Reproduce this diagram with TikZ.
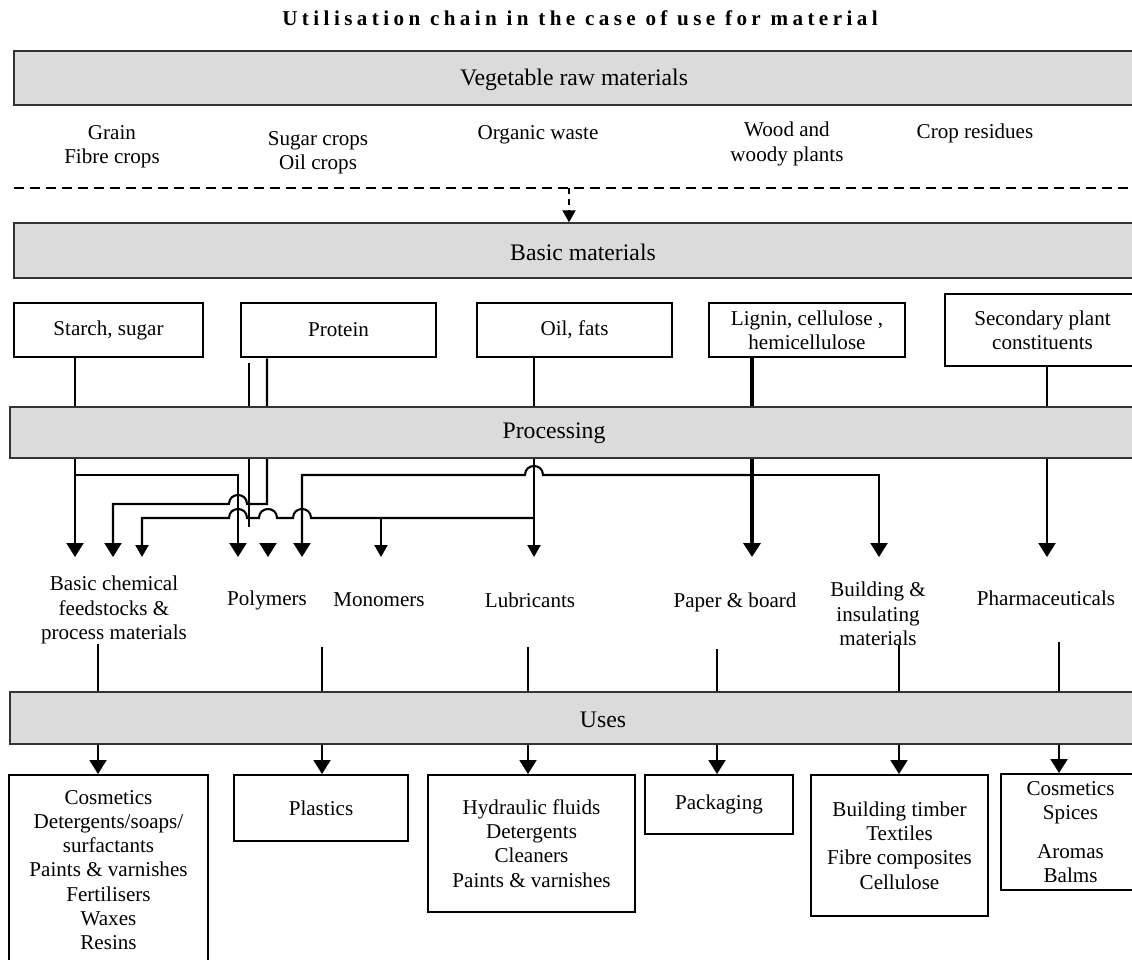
\documentclass[tikz,border=0pt]{standalone}
\usepackage{fontspec}
\setmainfont{Liberation Serif}
\usetikzlibrary{arrows.meta,positioning,backgrounds}

\begin{document}
\begin{tikzpicture}[
    x=.2mm, y=-.2mm,
    font=\fontsize{12}{13.8}\selectfont,
    band/.style={draw=black!80, line width=.8pt, fill=black!14,
      minimum width=226mm},
    bandtext/.style={font=\fontsize{13.5}{16}\selectfont},
    srcbox/.style={draw, line width=1.5pt, fill=white, align=center,
      minimum height=10.8mm},
    usebox/.style={draw, line width=1.1pt, fill=white, align=center},
    lbl/.style={align=center},
    conn/.style={line width=1.2pt},
    bigtip/.tip={Triangle[length=2.8mm,width=3.4mm]},
    smalltip/.tip={Triangle[length=2.4mm,width=2.6mm]},
    hump/.style args={#1/#2}{insert path={-- ({#1+9},#2)
      .. controls ({#1+9},{#2-12}) and ({#1-9},{#2-12}) .. ({#1-9},#2)}}
  ]
  \useasboundingbox (0,0) rectangle (1132,959);

  \node[font=\fontsize{12}{14}\selectfont\bfseries\addfontfeature{LetterSpace=21}]
    (title) at (580,18) {Utilisation chain in the case of use for material};

  % the four grey bands
  \node[band, minimum height=10.8mm] (veg) at (579,78) {};
  \node[band, minimum height=11mm] (basic) at (579,250.5) {};
  \node[band, minimum height=10.2mm] (proc) at (575,432.5) {};
  \node[band, minimum height=10.4mm] (uses) at (575,718) {};
  \node[bandtext] (vegtxt) at (574,80) {Vegetable raw materials};
  \node[bandtext] (basictxt) at (583,252) {Basic materials};
  \node[bandtext] (proctxt) at (554,433) {Processing};
  \node[bandtext] (usestxt) at (603,720) {Uses};

  % raw materials
  \node[lbl] (grain) at (112,147) {Grain\\Fibre crops};
  \node[lbl] (sugar) at (318,153) {Sugar crops\\Oil crops};
  \node[lbl] (organic) at (538,135) {Organic waste};
  \node[lbl] (wood) at (787,144) {Wood and\\woody plants};
  \node[lbl] (residue) at (975,133) {Crop residues};

  % basic materials
  \node[srcbox, minimum width=37.8mm] (starch) at (108.5,330) {Starch, sugar};
  \node[srcbox, minimum width=39mm] (prot) at (338.5,330) {Protein};
  \node[srcbox, minimum width=39mm] (oil) at (574.5,330) {Oil, fats};
  \node[srcbox, minimum width=39.2mm] (lig) at (807,330)
    {Lignin, cellulose ,\\hemicellulose};
  \node[srcbox, minimum width=39mm, minimum height=14.4mm] (sec) at (1042.5,330)
    {Secondary plant\\constituents};

  % products of processing
  \node[lbl] (basicchem) at (114,610) {Basic chemical\\feedstocks \&\\process materials};
  \node[lbl] (polym) at (267,600) {Polymers};
  \node[lbl] (monom) at (379,600) {Monomers};
  \node[lbl] (lubr) at (530,600) {Lubricants};
  \node[lbl] (paper) at (735,602) {Paper \& board};
  \node[lbl] (build) at (878,614) {Building \&\\insulating\\materials};
  \node[lbl] (pharma) at (1046,598) {Pharmaceuticals};

  % uses
  \node[usebox, minimum width=39.8mm, minimum height=38mm] (cosmbox) at (108.5,870)
    {Cosmetics\\Detergents/soaps/\\surfactants\\Paints \& varnishes\\Fertilisers\\Waxes\\Resins};
  \node[usebox, minimum width=34.8mm, minimum height=13.2mm] (plasbox) at (321,808) {Plastics};
  \node[usebox, minimum width=41.4mm, minimum height=27.4mm] (fluidbox) at (531.5,843.5)
    {Hydraulic fluids\\Detergents\\Cleaners\\Paints \& varnishes};
  \node[usebox, minimum width=29.6mm, minimum height=11.8mm] (packbox) at (719,804.5) {Packaging};
  \node[usebox, minimum width=35.4mm, minimum height=28.2mm] (timbbox) at (899.5,845.5)
    {Building timber\\Textiles\\Fibre composites\\Cellulose};
  \node[usebox, minimum width=27.8mm, minimum height=23.2mm] (spicebox) at (1070.5,832)
    {Cosmetics\\Spices\\[3mm]Aromas\\Balms};

  \begin{scope}[on background layer]
    % dashed separator and drop into the basic materials
    \coordinate (drop) at (569,188);
    \draw[line width=1.1pt, dash pattern=on 2mm off 1.2mm] (14,188) -- (1140,188);
    \draw[line width=1.1pt, dash pattern=on 1.2mm off 1mm, -{smalltip}]
      (drop) -- (drop |- basic.north);

    % arrow ends above the products, and levels of the cross lines
    \foreach \n/\x in {bcA/75,bcB/113,bcC/142,polA/238,polB/268,polC/302,
      mono/381,lub/534,pap/752,bld/879,pha/1047}
      \coordinate (\n) at (\x,557);
    \coordinate (yU) at (0,475);
    \coordinate (yM) at (0,504);
    \coordinate (yL) at (0,518);
    \coordinate (pL) at (249,527);
    \coordinate (pR) at (267,504);

    \draw[conn,-{bigtip}] (starch.south -| bcA) -- (bcA);
    \draw[conn,-{bigtip}] (bcA |- yU) -| (polA);
    \draw[conn,line width=1pt] (pL |- prot.south) ++(0,5) -- (pL);
    \draw[conn,-{bigtip}] (pR |- prot.south) -- (pR) [hump=238/504]
      -- (bcB |- yM) -- (bcB);
    \draw[conn,-{smalltip}] (oil.south -| lub) -- (lub);
    \draw[conn,-{smalltip}] (lub |- yL) [hump=302/518] [hump=268/518]
      [hump=238/518] -- (bcC |- yL) -- (bcC);
    \draw[conn,-{smalltip}] (mono |- yL) -- (mono);
    \draw[conn,-{bigtip}] (polB) ++(0,-14) -- (polB);
    \draw[conn,line width=2pt,-{bigtip}] (lig.south -| pap) -- (pap);
    \draw[conn,-{bigtip}] (pap |- yU) -| (bld);
    \draw[conn,-{bigtip}] (pap |- yU) [hump=534/475] -- (polC |- yU) -- (polC);
    \draw[conn,-{bigtip}] (sec.south -| pha) -- (pha);

    % from the products through the uses band
    \foreach \n/\x/\y/\b in {ua/98/644/cosmbox, ub/322/647/plasbox,
      uc/528/647/fluidbox, ud/717/649/packbox, ue/899/645/timbbox,
      uf/1059/642/spicebox} {
      \coordinate (\n) at (\x,\y);
      \draw[conn,line width=1.1pt] (\n) -- (\n |- uses.north);
      \draw[conn,line width=1.1pt,-{bigtip}] (\n |- uses.south) -- (\n |- \b.north);
    }
  \end{scope}
\end{tikzpicture}
\end{document}
